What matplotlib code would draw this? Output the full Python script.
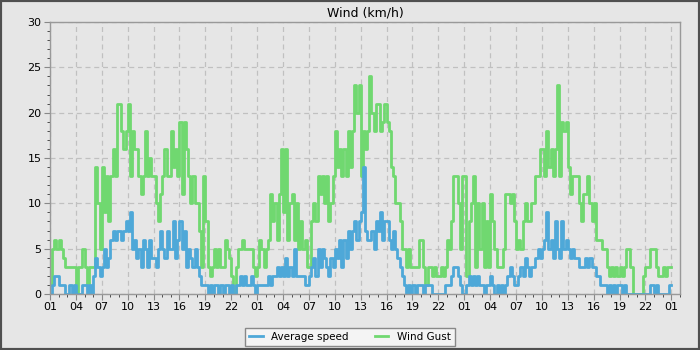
import numpy as np
import matplotlib
matplotlib.use("Agg")
import matplotlib.pyplot as plt
from matplotlib.patches import Rectangle

# 15-minute readings (km/h), starting 01:00, 72 hours
gust = [
    1, 5, 6, 5,  6, 5, 4, 3,  3, 3, 3, 3,  0, 3, 3, 5,  3, 1, 3, 3,
    3, 14, 10, 5,  14, 9, 13, 8,  13, 16, 13, 21,  21, 18, 16, 18,  21, 13, 18, 16,
    16, 13, 11, 13,  18, 13, 15, 13,  13, 10, 8, 11,  13, 16, 13, 13,  18, 14, 16, 13,
    19, 11, 19, 16,  13, 10, 13, 10,  10, 7, 3, 13,  8, 3, 2, 3,  5, 3, 5, 3,
    3, 6, 5, 4,  2, 0, 3, 5,  5, 6, 5, 5,  5, 5, 3, 2,  3, 6, 5, 3,
    5, 6, 11, 8,  10, 6, 11, 16,  9, 16, 6, 10,  11, 6, 10, 5,  8, 5, 6, 3,
    3, 8, 10, 8,  13, 11, 13, 10,  13, 8, 10, 13,  18, 14, 16, 13,  16, 13, 18, 14,
    18, 23, 20, 23,  13, 18, 16, 18,  24, 20, 18, 21,  21, 18, 19, 21,  19, 18, 14, 13,
    10, 10, 8, 5,  5, 3, 5, 3,  3, 3, 3, 6,  6, 3, 1, 3,  3, 2, 3, 2,
    2, 3, 2, 3,  6, 5, 8, 13,  13, 10, 5, 13,  13, 2, 8, 10,  13, 3, 10, 5,
    10, 3, 8, 3,  11, 8, 5, 3,  3, 3, 5, 11,  11, 10, 11, 8,  5, 6, 5, 8,
    10, 8, 8, 10,  10, 13, 13, 16,  16, 13, 18, 14,  16, 13, 16, 23,  13, 19, 18, 19,
    14, 11, 13, 13,  13, 10, 8, 11,  11, 13, 10, 8,  10, 6, 6, 6,  5, 5, 3, 2,
    3, 2, 3, 2,  3, 2, 3, 5,  5, 3, 0, 0,  0, 0, 0, 2,  3, 3, 5, 5,
    5, 3, 2, 2,  3, 2, 3, 3,  3,
]
avg = [
    0, 1, 2, 2,  1, 1, 1, 0,  0, 1, 0, 1,  0, 0, 0, 1,  1, 0, 1, 0,
    2, 4, 3, 2,  3, 5, 3, 4,  6, 7, 6, 7,  7, 6, 7, 8,  7, 9, 5, 6,
    4, 5, 3, 6,  5, 3, 6, 4,  4, 3, 5, 7,  5, 4, 7, 5,  5, 8, 4, 6,
    8, 5, 7, 3,  5, 4, 3, 5,  3, 2, 1, 1,  1, 0, 1, 0,  1, 1, 0, 1,
    0, 1, 1, 0,  1, 0, 1, 1,  2, 1, 2, 1,  1, 2, 1, 0,  1, 1, 1, 1,
    1, 2, 1, 2,  2, 3, 2, 3,  2, 4, 2, 3,  2, 5, 2, 2,  2, 2, 1, 1,
    2, 3, 4, 2,  5, 3, 5, 4,  3, 2, 4, 3,  5, 4, 6, 3,  6, 4, 7, 5,
    7, 8, 6, 8,  9, 14, 7, 6,  6, 7, 5, 8,  7, 9, 6, 8,  8, 6, 5, 7,
    5, 4, 3, 2,  1, 0, 1, 0,  1, 0, 1, 1,  1, 0, 1, 1,  1, 0, 0, 0,
    0, 0, 0, 1,  1, 1, 2, 3,  3, 2, 1, 0,  0, 1, 2, 1,  2, 1, 2, 1,
    1, 0, 1, 1,  2, 1, 0, 1,  0, 1, 0, 1,  2, 3, 2, 1,  1, 2, 3, 2,
    4, 3, 2, 3,  3, 4, 5, 4,  5, 6, 9, 5,  6, 4, 8, 5,  4, 8, 5, 6,
    5, 4, 5, 4,  4, 3, 3, 3,  4, 3, 4, 3,  3, 2, 2, 1,  1, 1, 0, 1,
    0, 1, 0, 1,  1, 0, 1, 0,  0, 0, 0, 0,  0, 0, 0, 0,  0, 0, 1, 1,
    0, 1, 0, 0,  0, 0, 0, 1,  1,
]
hour_labels = ["01", "04", "07", "10", "13", "16", "19", "22"] * 3 + ["01"]

hours = np.arange(len(gust)) / 4.0

fig = plt.figure(figsize=(7, 3.5), dpi=100, facecolor="#e6e6e6")
ax = fig.add_axes([50 / 700, 1 - 294 / 350, 630 / 700, 272 / 350])
ax.set_facecolor("#e6e6e6")

ax.plot(hours, gust, drawstyle="steps-post", color="#70d870", lw=2, label="Wind Gust")
ax.plot(hours, avg, drawstyle="steps-post", color="#4ea8d8", lw=2, label="Average speed")

ax.set_xlim(0, 73)
ax.set_ylim(0, 30)
ax.set_xticks(np.arange(0, 73, 3))
ax.set_xticklabels(hour_labels)
ax.set_xticks(np.arange(0, 74, 1), minor=True)
ax.set_yticks(np.arange(0, 31, 5))
ax.set_yticks(np.arange(0, 31, 1), minor=True)
ax.tick_params(which="major", length=4, color="#888888", labelsize=8, pad=2)
ax.tick_params(which="minor", length=2.5, color="#333333")
ax.grid(True, which="major", ls=(0, (4, 3)), color="#c0c0c0", lw=0.9)
ax.set_axisbelow(True)
for s in ax.spines.values():
    s.set_color("#999999")
    s.set_linewidth(1)

ax.set_title("Wind (km/h)", fontsize=9, pad=4)

h, l = ax.get_legend_handles_labels()
fig.legend(h[::-1], l[::-1], loc="center", bbox_to_anchor=(0.5, 0.037), ncol=2,
           fontsize=7.5, frameon=True, fancybox=False, edgecolor="#888888",
           facecolor="#f4f4f4", framealpha=1, handlelength=1.3, columnspacing=2.5,
           borderpad=0.4)

fig.patches.append(Rectangle((0, 0), 1, 1, transform=fig.transFigure, fill=False,
                             edgecolor="#505050", lw=3))

fig.savefig("out.png", dpi=100, facecolor=fig.get_facecolor())
